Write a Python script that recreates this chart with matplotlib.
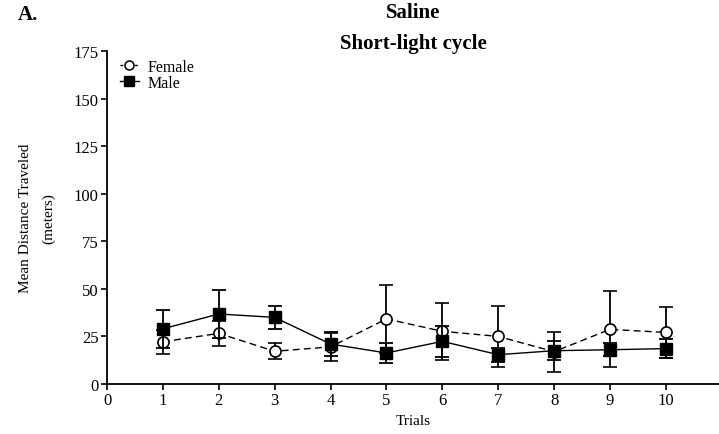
import numpy as np
import matplotlib.pyplot as plt
from matplotlib.lines import Line2D

plt.rcParams['font.family'] = ['Liberation Serif', 'DejaVu Serif']

trials = np.arange(1, 11)
female_mean = [22.2, 26.6, 17.2, 19.5, 34.2, 27.7, 25.0, 17.0, 28.7, 27.1]
female_sem = [6.4, 6.5, 4.3, 7.5, 18.0, 15.0, 16.0, 10.5, 20.0, 13.5]
male_mean = [29.0, 36.8, 35.0, 21.0, 16.3, 22.4, 15.4, 17.5, 18.0, 18.6]
male_sem = [10.0, 12.8, 6.0, 6.5, 5.5, 8.0, 3.7, 5.0, 3.5, 4.8]

fig = plt.figure(figsize=(7.19, 4.35), dpi=100)
ax = fig.add_axes([107 / 719, 50 / 435, 612 / 719, 333 / 435])

ax.errorbar(trials, female_mean, yerr=female_sem, fmt='o--', color='black',
            mfc='white', mec='black', ms=8, mew=1.2, lw=1.0, elinewidth=1.3,
            capsize=5, capthick=1.3, dashes=(5, 3), zorder=2)
ax.errorbar(trials, male_mean, yerr=male_sem, fmt='s-', color='black',
            ms=8, lw=1.0, elinewidth=1.3, capsize=5, capthick=1.3, zorder=3)

ax.set_xlim(0, 10.95)
ax.set_ylim(0, 175)
ax.set_xticks(range(0, 11))
ax.set_yticks(range(0, 176, 25))
ax.tick_params(labelsize=12, length=4, width=1.2, direction='out', pad=2)
for s in ['top', 'right']:
    ax.spines[s].set_visible(False)
for s in ['left', 'bottom']:
    ax.spines[s].set_linewidth(1.3)

ax.set_xlabel('Trials', fontsize=11, labelpad=4)
ax.set_ylabel('Mean Distance Traveled\n(meters)', fontsize=11, labelpad=13,
              linespacing=1.95)

# two-line bold heading above the plot area
cx = (107 + 612 / 2) / 719
fig.text(cx, 1 - 13 / 435, 'Saline', fontsize=15, fontweight='bold',
         ha='center', va='center')
fig.text(cx, 1 - 44 / 435, 'Short-light cycle', fontsize=15, fontweight='bold',
         ha='center', va='center')
fig.text(0.025, 1 - 15 / 435, 'A.', fontsize=15, fontweight='bold', va='center')

handles = [
    Line2D([], [], color='black', ls='--', dashes=(2, 1.5), lw=1.0, marker='o',
           mfc='white', mec='black', ms=6.5, mew=1.1),
    Line2D([], [], color='black', ls='-', lw=1.0, marker='s', ms=6.5),
]
ax.legend(handles, ['Female', 'Male'], loc='upper left', frameon=False,
          fontsize=11.5, handlelength=1.2, handletextpad=0.55, labelspacing=0.0,
          borderaxespad=0.0, bbox_to_anchor=(0.01, 0.995))

fig.savefig('out.png', dpi=100)
